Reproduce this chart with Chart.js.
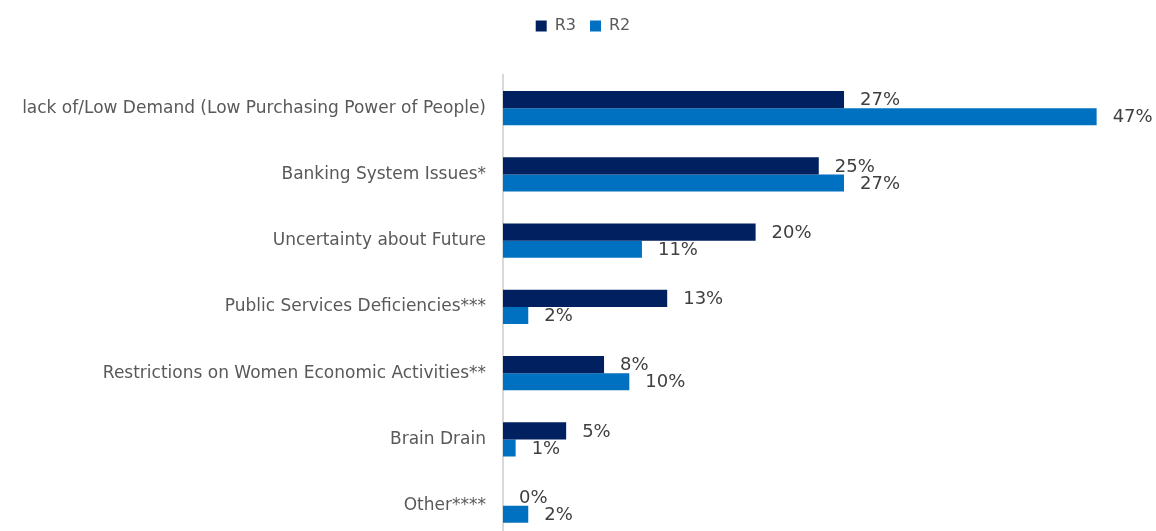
<!DOCTYPE html>
<html>
<head>
<meta charset="utf-8">
<script src="https://cdn.jsdelivr.net/npm/chart.js@4/dist/chart.umd.min.js"></script>
<style>
  html, body { margin: 0; padding: 0; background: #fff; overflow: hidden; }
  #wrap { width: 1156px; height: 566px; }
</style>
</head>
<body>
<div id="wrap"><canvas id="chart"></canvas></div>
<script>
const categories = [
    "lack of/Low Demand (Low Purchasing Power of People)",
    "Banking System Issues*",
    "Uncertainty about Future",
    "Public Services Deficiencies***",
    "Restrictions on Women Economic Activities**",
    "Brain Drain",
    "Other****"
];
const r3 = [27, 25, 20, 13, 8, 5, 0];
const r2 = [47, 27, 11, 2, 10, 1, 2];

const fontFamily = "'DejaVu Sans', sans-serif";

// percent labels at the end of each bar
const barLabels = {
    id: 'barLabels',
    afterDatasetsDraw(chart) {
        const ctx = chart.ctx;
        ctx.save();
        ctx.font = "18px " + fontFamily;
        ctx.fillStyle = "#404040";
        ctx.textAlign = "left";
        ctx.textBaseline = "middle";
        chart.data.datasets.forEach((ds, i) => {
            chart.getDatasetMeta(i).data.forEach((bar, j) => {
                ctx.fillText(ds.data[j] + "%", bar.x + 16, bar.y + 1);
            });
        });
        ctx.restore();
    }
};

// extra room under the legend
const legendGap = {
    id: 'legendGap',
    beforeInit(chart) {
        const fit = chart.legend.fit;
        chart.legend.fit = function () {
            fit.bind(chart.legend)();
            this.height += 31;
        };
    }
};

new Chart(document.getElementById('chart'), {
    type: 'bar',
    data: {
        labels: categories,
        datasets: [
            { label: "R3", data: r3, backgroundColor: "#002060" },
            { label: "R2", data: r2, backgroundColor: "#0070C0" }
        ]
    },
    options: {
        indexAxis: 'y',
        responsive: true,
        maintainAspectRatio: false,
        animation: false,
        layout: { padding: { top: 4, right: 0, bottom: 2, left: 10 } },
        datasets: {
            bar: { categoryPercentage: 0.515, barPercentage: 1 }
        },
        scales: {
            x: { display: false, min: 0, max: 51.7 },
            y: {
                grid: { display: false, drawTicks: false },
                border: { display: true, color: "#d9d9d9", width: 2 },
                ticks: { padding: 17, color: "#595959", font: { family: fontFamily, size: 17 } },
                afterFit(scale) { scale.width = 493; }
            }
        },
        plugins: {
            legend: {
                position: 'top',
                labels: {
                    boxWidth: 11, boxHeight: 11, padding: 14,
                    color: "#595959",
                    font: { family: fontFamily, size: 16 }
                }
            },
            tooltip: { enabled: false }
        }
    },
    plugins: [barLabels, legendGap]
});
</script>
</body>
</html>
